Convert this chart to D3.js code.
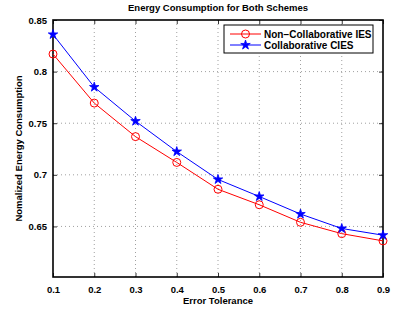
<!DOCTYPE html>
<html>
<head>
<meta charset="utf-8">
<script src="https://cdn.jsdelivr.net/npm/d3@7"></script>
<style>
  body { margin: 0; background: #fff; }
  text { font-family: "Liberation Sans", Arial, sans-serif; font-weight: bold; }
</style>
</head>
<body>
<div id="container"></div>
<script>
const tolerance = [0.1, 0.2, 0.3, 0.4, 0.5, 0.6, 0.7, 0.8, 0.9];
const nonCollab = [0.817, 0.7695, 0.737, 0.712, 0.686, 0.671, 0.654, 0.643, 0.636];
const collab = [0.836, 0.785, 0.752, 0.7225, 0.6955, 0.679, 0.662, 0.648, 0.6415];
const xTicks = [0.1, 0.2, 0.3, 0.4, 0.5, 0.6, 0.7, 0.8, 0.9];
const yTicks = [0.65, 0.7, 0.75, 0.8, 0.85];
const seriesNames = ["Non\u2212Collaborative IES", "Collaborative CIES"];

const margin = {top: 20, right: 13, bottom: 35, left: 53};
const width = 396 - margin.left - margin.right;
const height = 312 - margin.top - margin.bottom;

const svg = d3.select("#container")
  .append("svg")
  .attr("width", 396)
  .attr("height", 312);

const g = svg.append("g")
  .attr("transform", "translate(" + margin.left + "," + margin.top + ")");

const x = d3.scaleLinear().domain([0.1, 0.9]).range([0, width]);
const y = d3.scaleLinear().domain([0.601, 0.85]).range([height, 0]);

// dotted grid
g.append("g").selectAll("line")
  .data(xTicks.slice(1, -1))
  .enter().append("line")
  .attr("x1", d => x(d)).attr("x2", d => x(d))
  .attr("y1", 0).attr("y2", height)
  .attr("stroke", "#888").attr("stroke-width", 0.8)
  .attr("stroke-dasharray", "1,3");

g.append("g").selectAll("line")
  .data(yTicks.slice(0, -1))
  .enter().append("line")
  .attr("x1", 0).attr("x2", width)
  .attr("y1", d => y(d)).attr("y2", d => y(d))
  .attr("stroke", "#888").attr("stroke-width", 0.8)
  .attr("stroke-dasharray", "1,3");

// axes, ticks inward
const fmt = d => String(+d.toFixed(2));
g.append("g")
  .attr("transform", "translate(0," + height + ")")
  .call(d3.axisBottom(x).tickValues(xTicks).tickFormat(fmt).tickSizeInner(-4).tickSizeOuter(0).tickPadding(9));
g.append("g")
  .call(d3.axisTop(x).tickValues(xTicks).tickFormat("").tickSizeInner(-4).tickSizeOuter(0));
g.append("g")
  .call(d3.axisLeft(y).tickValues(yTicks).tickFormat(fmt).tickSizeInner(-4).tickSizeOuter(0).tickPadding(6));
g.append("g")
  .attr("transform", "translate(" + width + ",0)")
  .call(d3.axisRight(y).tickValues(yTicks).tickFormat("").tickSizeInner(-4).tickSizeOuter(0));

g.selectAll(".tick text").attr("font-size", 9.5).attr("fill", "#000")
  .style("font-family", "'Liberation Sans', Arial, sans-serif").style("font-weight", "bold");
g.selectAll(".domain").remove();
g.selectAll(".tick line").attr("stroke", "#000").attr("stroke-width", 0.8);

g.append("rect")
  .attr("width", width).attr("height", height)
  .attr("fill", "none").attr("stroke", "#000").attr("stroke-width", 1.6);

// lines
const line = d3.line().x((d, i) => x(tolerance[i])).y(d => y(d));
g.append("path").datum(nonCollab)
  .attr("d", line).attr("fill", "none").attr("stroke", "#ff0000").attr("stroke-width", 1);
g.append("path").datum(collab)
  .attr("d", line).attr("fill", "none").attr("stroke", "#0000ff").attr("stroke-width", 1);

const star = d3.symbol().type(d3.symbolStar).size(28);

g.selectAll(".circ").data(nonCollab).enter().append("circle")
  .attr("cx", (d, i) => x(tolerance[i])).attr("cy", d => y(d))
  .attr("r", 4).attr("fill", "none").attr("stroke", "#ff0000").attr("stroke-width", 1);

g.selectAll(".star").data(collab).enter().append("path")
  .attr("d", star)
  .attr("transform", (d, i) => "translate(" + x(tolerance[i]) + "," + y(d) + ")")
  .attr("fill", "#0000ff").attr("stroke", "#0000ff").attr("stroke-width", 0.8);

// title and labels
svg.append("text")
  .attr("x", margin.left + width / 2).attr("y", 11)
  .attr("text-anchor", "middle").attr("font-size", 9.5)
  .text("Energy Consumption for Both Schemes");

svg.append("text")
  .attr("x", margin.left + width / 2).attr("y", 304)
  .attr("text-anchor", "middle").attr("font-size", 9.5)
  .text("Error Tolerance");

svg.append("text")
  .attr("transform", "translate(22," + (margin.top + height / 2) + ") rotate(-90)")
  .attr("text-anchor", "middle").attr("font-size", 9.5)
  .text("Nomalized Energy Consumption");

// legend
const lg = svg.append("g").attr("transform", "translate(224,25)");
lg.append("rect")
  .attr("width", 149).attr("height", 28)
  .attr("fill", "#fff").attr("stroke", "#000").attr("stroke-width", 1);
const colors = ["#ff0000", "#0000ff"];
seriesNames.forEach((name, i) => {
  const cy = 9 + i * 11;
  lg.append("line")
    .attr("x1", 6).attr("x2", 37).attr("y1", cy).attr("y2", cy)
    .attr("stroke", colors[i]).attr("stroke-width", 1);
  if (i === 0) {
    lg.append("circle").attr("cx", 21.5).attr("cy", cy).attr("r", 4)
      .attr("fill", "none").attr("stroke", colors[i]).attr("stroke-width", 1);
  } else {
    lg.append("path").attr("d", star)
      .attr("transform", "translate(21.5," + cy + ")")
      .attr("fill", colors[i]).attr("stroke", colors[i]).attr("stroke-width", 0.8);
  }
  lg.append("text")
    .attr("x", 40).attr("y", cy + 3.5)
    .attr("font-size", 10)
    .text(name);
});
</script>
</body>
</html>
